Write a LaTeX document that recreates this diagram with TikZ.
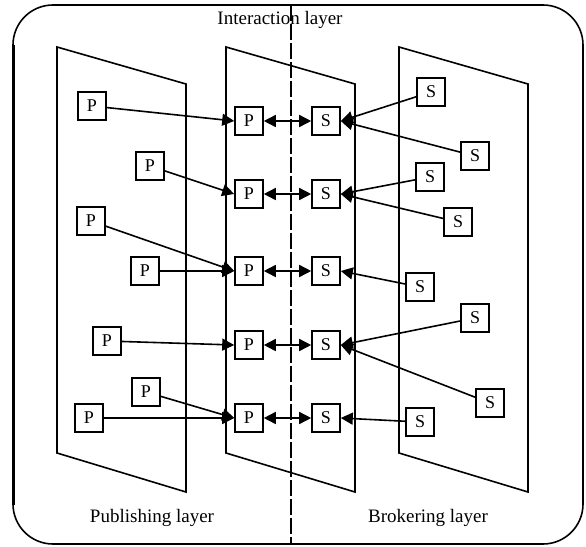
\documentclass[tikz,border=0pt]{standalone}
\usepackage{fontspec}
\setmainfont{Liberation Serif}
\usetikzlibrary{arrows.meta}
\begin{document}
\begin{tikzpicture}[x=1pt,y=-1pt,
  box/.style={draw,line width=1.6pt,minimum size=28pt,inner sep=0pt,fill=white,font=\fontsize{18}{20}\selectfont},
  layer/.style={draw,line width=1.6pt},
  tip/.style={},
  conn/.style={line width=1.6pt,-{Triangle[length=12pt,width=12pt]}},
  dconn/.style={line width=1.6pt,{Triangle[length=12pt,width=12pt]}-{Triangle[length=12pt,width=12pt]}},
  lbl/.style={font=\fontsize{19}{21}\selectfont}]
\useasboundingbox (0,0) rectangle (586,546);
% outer frame
\draw[line width=1.6pt,rounded corners=40pt] (13,5) rectangle (583,544);
\draw[line width=3pt] (13,45) -- (13,505);
% layers
\draw[layer] (57,47) -- (186,84) -- (186,492) -- (57,453) -- cycle;
\draw[layer] (226,47) -- (355,84) -- (355,492) -- (226,453) -- cycle;
\draw[layer] (399,47) -- (528,84) -- (528,492) -- (399,453) -- cycle;
% dashed divider
\coordinate (dtop) at (291,5);
\coordinate (dbot) at (291,544);
\draw[line width=1.6pt,dash pattern=on 16pt off 3pt] (dtop) -- (dbot);
% labels
\node[lbl] (tInter) at (280,20) {Interaction layer};
\node[lbl] (tPub) at (152,518) {Publishing layer};
\node[lbl] (tBrok) at (428,518) {Brokering layer};
% middle nodes
\foreach \i/\y in {1/121,2/194,3/271,4/345,5/418}{
  \node[box] (mP\i) at (249,\y) {P};
  \node[box] (mS\i) at (326,\y) {S};
}
% publishers
\node[box] (P1) at (92,106) {P};
\node[box] (P2) at (150,166) {P};
\node[box] (P3) at (91,221) {P};
\node[box] (P4) at (145,271) {P};
\node[box] (P5) at (107,341) {P};
\node[box] (P6) at (146,392) {P};
\node[box] (P7) at (89,418) {P};
% subscribers
\node[box] (S1) at (431,92) {S};
\node[box] (S2) at (475,156) {S};
\node[box] (S3) at (430,177) {S};
\node[box] (S4) at (458,222) {S};
\node[box] (S5) at (420,287) {S};
\node[box] (S6) at (475,318) {S};
\node[box] (S7) at (490,403) {S};
\node[box] (S8) at (420,422) {S};
% connectors
\draw[conn] (P1) -- (mP1.west);
\draw[conn] (P2) -- (mP2.west);
\draw[conn] (P3) -- (mP3.west);
\draw[conn] (P4) -- (mP3.west);
\draw[conn] (P5) -- (mP4.west);
\draw[conn] (P6) -- (mP5.west);
\draw[conn] (P7) -- (mP5.west);
\draw[conn] (S1) -- (mS1.east);
\draw[conn] (S2) -- (mS1.east);
\draw[conn] (S3) -- (mS2.east);
\draw[conn] (S4) -- (mS2.east);
\draw[conn] (S5) -- (mS3.east);
\draw[conn] (S6) -- (mS4.east);
\draw[conn] (S7) -- (mS4.east);
\draw[conn] (S8) -- (mS5.east);
\foreach \i in {1,...,5}{
  \draw[dconn] (mP\i) -- (mS\i);
}
\end{tikzpicture}
\end{document}
